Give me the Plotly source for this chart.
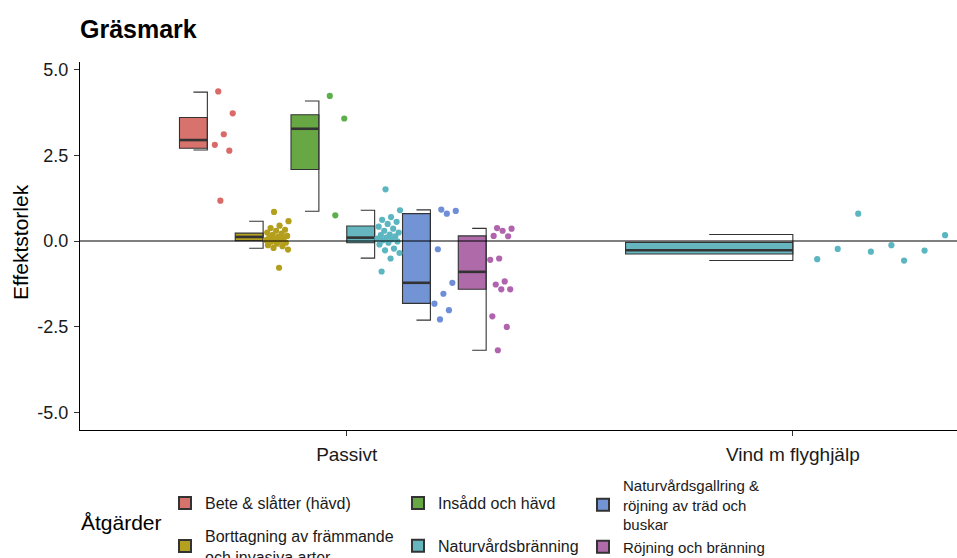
import plotly.graph_objects as go

# ---------------- data ----------------
categories = ["Passivt", "Vind m flyghjälp"]
treatments = [
    "Bete & slåtter (hävd)",
    "Borttagning av främmande och invasiva arter",
    "Insådd och hävd",
    "Naturvårdsbränning",
    "Naturvårdsgallring & röjning av träd och buskar",
    "Röjning och bränning",
]
legend_labels = [
    "Bete & slåtter (hävd)",
    "Borttagning av främmande<br>och invasiva arter",
    "Insådd och hävd",
    "Naturvårdsbränning",
    "Naturvårdsgallring &<br>röjning av träd och<br>buskar",
    "Röjning och bränning",
]
fill_colors = ["#D7726C", "#B5A020", "#67A844", "#66B6C0", "#7394D4", "#AF6AAA"]
point_colors = ["#D96A68", "#B49F1C", "#5CAF4A", "#5CB6C1", "#6E8ED8", "#B164AE"]

# box statistics (one entry per category/treatment group)
box_category = [0, 0, 0, 0, 0, 0, 1]
box_treatment = [0, 1, 2, 3, 4, 5, 3]
box_lower = [2.66, -0.21, 0.87, -0.50, -2.31, -3.19, -0.57]
box_q1 = [2.71, 0.01, 2.09, -0.05, -1.82, -1.41, -0.38]
box_median = [2.95, 0.12, 3.28, 0.10, -1.22, -0.90, -0.27]
box_q3 = [3.61, 0.23, 3.69, 0.44, 0.80, 0.15, -0.04]
box_upper = [4.35, 0.58, 4.09, 0.90, 0.91, 0.37, 0.19]

# individual effect sizes (jittered points)
pts_bete = [4.37, 3.73, 3.12, 2.81, 2.64, 1.18]
pts_bort = [0.85, 0.58, 0.45, 0.38, 0.33, 0.30, 0.25, 0.22, 0.18, 0.15, 0.12, 0.10,
            0.08, 0.05, 0.03, 0.01, -0.02, -0.05, -0.08, -0.12, -0.15, -0.20, -0.25, -0.78]
pts_insadd = [4.24, 3.58, 0.75]
pts_brann_p = [1.51, 0.90, 0.70, 0.62, 0.56, 0.50, 0.42, 0.36, 0.30, 0.25, 0.19, 0.17,
               0.14, 0.10, 0.07, 0.05, 0.02, -0.01, -0.05, -0.10, -0.22, -0.27, -0.35,
               -0.51, -0.89]
pts_gallring = [0.92, 0.88, 0.80, -0.24, -1.22, -1.54, -1.83, -2.02, -2.29]
pts_rojning = [0.38, 0.36, 0.30, 0.15, 0.14, -0.51, -0.55, -1.18, -1.27, -1.41, -1.41,
               -2.20, -2.51, -3.19]
pts_brann_v = [0.80, 0.17, -0.12, -0.23, -0.28, -0.31, -0.53, -0.57]
group_points = [pts_bete, pts_bort, pts_insadd, pts_brann_p, pts_gallring, pts_rojning, pts_brann_v]

y_ticks = [-5, -2.5, 0, 2.5, 5]
y_ticktext = ["-5.0", "-2.5", "0.0", "2.5", "5.0"]

# ---------------- layout helpers ----------------
W, H = 957, 558
ML, MR, MT, MB = 80, 0, 62, 128
PW, PH = W - ML - MR, H - MT - MB


def px_to_paper_x(px):
    return (px - ML) / PW


def px_to_paper_y(py):
    return (H - MB - py) / PH


DODGE = 0.75
FONT = "Liberation Sans, Arial, sans-serif"
LINE = "#333333"

legend_of = {0: "legend", 1: "legend", 2: "legend2", 3: "legend2", 4: "legend3", 5: "legend3"}

fig = go.Figure()

n_per_cat = {}
for c in box_category:
    n_per_cat[c] = n_per_cat.get(c, 0) + 1
slot_counter = {}
shown = set()

for g in range(len(box_category)):
    c = box_category[g]
    t = box_treatment[g]
    n = n_per_cat[c]
    j = slot_counter.get(c, 0)
    slot_counter[c] = j + 1
    gw = DODGE / n
    center = (c + 1) - DODGE / 2 + gw * (j + 0.5)
    half = gw / 2

    # half box (left of the group centre)
    fig.add_trace(go.Box(
        x=[center - half / 2], q1=[box_q1[g]], median=[box_median[g]], q3=[box_q3[g]],
        lowerfence=[box_q1[g]], upperfence=[box_q3[g]],
        width=half, whiskerwidth=0,
        fillcolor=fill_colors[t], line=dict(color=LINE, width=1.1),
        name=legend_labels[t], legendgroup=treatments[t],
        legend=legend_of[t], showlegend=(t not in shown),
        hoverinfo="skip",
    ))
    shown.add(t)
    # thick median line
    fig.add_trace(go.Scatter(
        x=[center - half, center], y=[box_median[g]] * 2, mode="lines",
        line=dict(color=LINE, width=2.6), showlegend=False, hoverinfo="skip",
    ))
    # whisker bracket at the right edge
    cap = half / 2
    fig.add_trace(go.Scatter(
        x=[center - cap, center, center, center - cap],
        y=[box_upper[g], box_upper[g], box_lower[g], box_lower[g]],
        mode="lines", line=dict(color=LINE, width=1.1),
        showlegend=False, hoverinfo="skip",
    ))
    # jittered points to the right of the box (deterministic jitter)
    vals = group_points[g]
    xs = [center + gw * (0.04 + 0.42 * ((0.37 + k * 0.618034) % 1.0)) for k in range(len(vals))]
    fig.add_trace(go.Scatter(
        x=xs, y=vals, mode="markers",
        marker=dict(color=point_colors[t], size=6.2, line=dict(width=0)),
        showlegend=False, hoverinfo="skip",
    ))

legend_common = dict(
    xref="container", yref="container", yanchor="top", xanchor="left",
    orientation="v", bgcolor="rgba(0,0,0,0)",
    itemsizing="constant",
)

fig.update_layout(
    width=W, height=H,
    paper_bgcolor="white", plot_bgcolor="white",
    margin=dict(l=ML, r=MR, t=MT, b=MB, autoexpand=False),
    title=dict(text="<b>Gräsmark</b>", x=80 / W, xanchor="left", xref="container",
               y=1 - 29 / H, yanchor="middle", yref="container",
               font=dict(family=FONT, size=25, color="black")),
    font=dict(family=FONT, color="#1a1a1a"),
    xaxis=dict(range=[0.402, 2.368], tickvals=[1, 2], ticktext=categories,
               showline=True, linecolor="black", linewidth=1.1,
               ticks="outside", ticklen=5, tickcolor=LINE, showgrid=False, zeroline=False,
               tickangle=0, ticklabelstandoff=2,
               tickfont=dict(family=FONT, size=19, color="#1a1a1a")),
    yaxis=dict(range=[-5.52, 5.23], tickvals=y_ticks, ticktext=y_ticktext,
               showline=True, linecolor="black", linewidth=1.1,
               ticks="outside", ticklen=5, tickcolor=LINE, showgrid=False, zeroline=False,
               ticklabelstandoff=2,
               tickfont=dict(family=FONT, size=18, color="#1a1a1a")),
    shapes=[dict(type="line", xref="paper", x0=0, x1=1, yref="y", y0=0, y1=0,
                 line=dict(color="black", width=1.1), layer="above")],
    annotations=[
        dict(text="Effektstorlek", xref="paper", yref="paper",
             x=px_to_paper_x(21), y=px_to_paper_y(242), xanchor="center", yanchor="middle",
             textangle=-90, showarrow=False, font=dict(family=FONT, size=21, color="black")),
        dict(text="Åtgärder", xref="paper", yref="paper",
             x=px_to_paper_x(79), y=px_to_paper_y(522), xanchor="left", yanchor="middle",
             showarrow=False, font=dict(family=FONT, size=21, color="black")),
    ],
    legend=dict(x=165 / W, y=1 - 486 / H, tracegroupgap=9,
                font=dict(family=FONT, size=16, color="#1a1a1a"), **legend_common),
    legend2=dict(x=398 / W, y=1 - 486 / H, tracegroupgap=19,
                 font=dict(family=FONT, size=16, color="#1a1a1a"), **legend_common),
    legend3=dict(x=583 / W, y=1 - 469 / H, tracegroupgap=0,
                 font=dict(family=FONT, size=15, color="#1a1a1a"), **legend_common),
    showlegend=True,
)

fig.write_html("out.html", config={"displayModeBar": False},
               post_script="document.body.style.margin='0px';")
